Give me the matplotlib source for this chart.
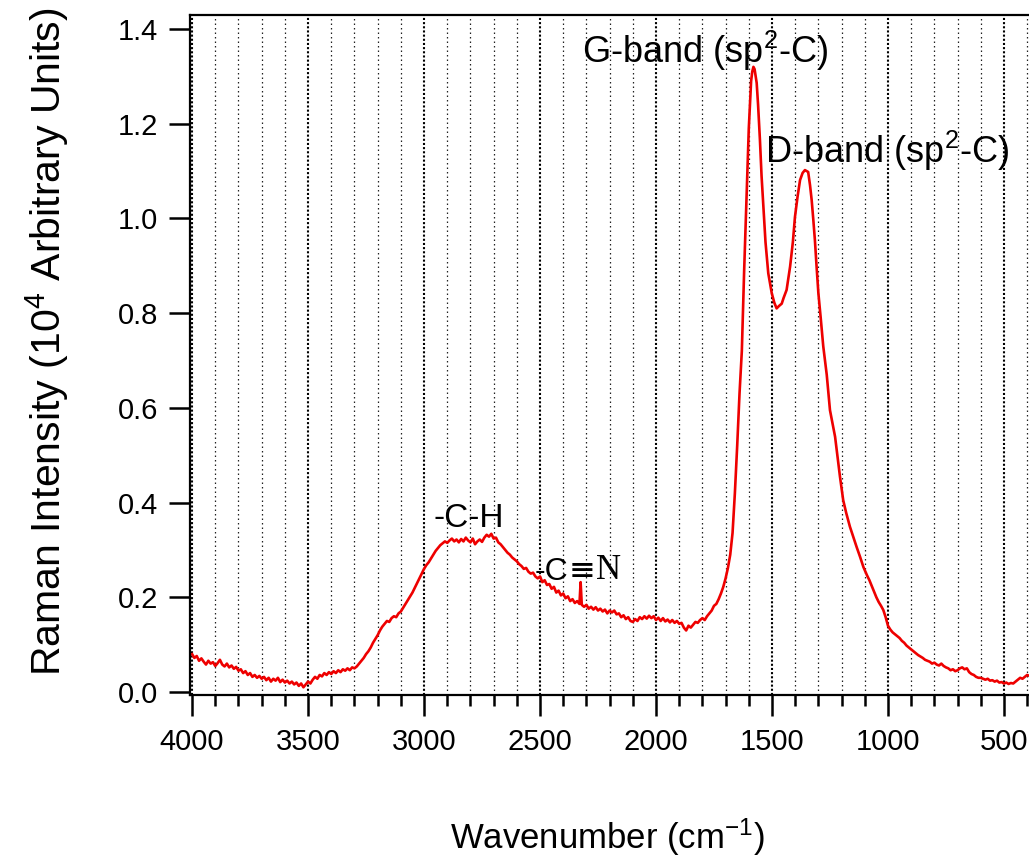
import numpy as np
import matplotlib.pyplot as plt
from matplotlib.ticker import MultipleLocator

plt.rcParams['font.family'] = ['Liberation Sans', 'DejaVu Sans']
plt.rcParams['mathtext.fontset'] = 'custom'
plt.rcParams['mathtext.rm'] = 'Liberation Sans'
plt.rcParams['mathtext.it'] = 'Liberation Sans:italic'
plt.rcParams['mathtext.bf'] = 'Liberation Sans:bold'

# Raman spectrum (cm-1, 10^4 a.u.)
# baseline region, 4000-3300
wn_a = [4000, 3990, 3980, 3970, 3960, 3950, 3940, 3930, 3920, 3910,
        3900, 3890, 3880, 3870, 3860, 3850, 3840, 3830, 3820, 3810,
        3800, 3790, 3780, 3770, 3760, 3750, 3740, 3730, 3720, 3710,
        3700, 3690, 3680, 3670, 3660, 3650, 3640, 3630, 3620, 3610,
        3600, 3590, 3580, 3570, 3560, 3550, 3540, 3530, 3520, 3510,
        3500, 3490, 3480, 3470, 3460, 3450, 3440, 3430, 3420, 3410,
        3400, 3390, 3380, 3370, 3360, 3350, 3340, 3330, 3320, 3310, 3300]
int_a = [0.080, 0.072, 0.076, 0.066, 0.071, 0.064, 0.058, 0.066, 0.060, 0.063,
         0.055, 0.061, 0.068, 0.058, 0.054, 0.060, 0.052, 0.056, 0.049, 0.053,
         0.045, 0.048, 0.040, 0.044, 0.036, 0.040, 0.032, 0.036, 0.030, 0.034,
         0.028, 0.032, 0.025, 0.030, 0.022, 0.028, 0.024, 0.030, 0.021, 0.026,
         0.020, 0.024, 0.018, 0.022, 0.016, 0.020, 0.013, 0.018, 0.010, 0.016,
         0.022, 0.018, 0.026, 0.032, 0.028, 0.036, 0.033, 0.040, 0.036, 0.042,
         0.038, 0.044, 0.040, 0.046, 0.042, 0.048, 0.045, 0.050, 0.046, 0.052, 0.050]

# C-H band and C#N region, 3290-1740
wn_b = [3290, 3280, 3270, 3260, 3250, 3240, 3230, 3220, 3210, 3200,
        3190, 3180, 3170, 3160, 3150, 3140, 3130, 3120, 3110, 3100,
        3090, 3080, 3070, 3060, 3050, 3040, 3030, 3020, 3010, 3000,
        2990, 2980, 2970, 2960, 2950, 2940, 2930, 2920, 2910, 2900,
        2890, 2880, 2870, 2860, 2850, 2840, 2830, 2820, 2810, 2800,
        2790, 2780, 2770, 2760, 2750, 2740, 2730, 2720, 2710, 2700,
        2690, 2680, 2670, 2660, 2650, 2640, 2630, 2620, 2610, 2600,
        2590, 2580, 2570, 2560, 2550, 2540, 2530, 2520, 2510, 2500,
        2490, 2480, 2470, 2460, 2450, 2440, 2430, 2420, 2410, 2400,
        2390, 2380, 2370, 2360, 2350, 2340, 2330, 2325, 2320, 2310,
        2300, 2290, 2280, 2270, 2260, 2250, 2240, 2230, 2220, 2210,
        2200, 2190, 2180, 2170, 2160, 2150, 2140, 2130, 2120, 2110,
        2100, 2090, 2080, 2070, 2060, 2050, 2040, 2030, 2020, 2010,
        2000, 1990, 1980, 1970, 1960, 1950, 1940, 1930, 1920, 1910,
        1900, 1890, 1880, 1870, 1860, 1850, 1840, 1830, 1820, 1810,
        1800, 1790, 1780, 1770, 1760, 1750, 1740]
int_b = [0.054, 0.060, 0.066, 0.072, 0.080, 0.086, 0.094, 0.104, 0.112, 0.120,
         0.130, 0.138, 0.144, 0.150, 0.148, 0.156, 0.160, 0.158, 0.166, 0.170,
         0.178, 0.186, 0.194, 0.202, 0.210, 0.220, 0.230, 0.240, 0.250, 0.260,
         0.268, 0.274, 0.282, 0.290, 0.298, 0.304, 0.310, 0.314, 0.318, 0.315,
         0.320, 0.324, 0.318, 0.322, 0.316, 0.323, 0.318, 0.326, 0.320, 0.316,
         0.324, 0.312, 0.318, 0.322, 0.317, 0.326, 0.332, 0.328, 0.334, 0.324,
         0.326, 0.316, 0.312, 0.306, 0.300, 0.294, 0.290, 0.284, 0.280, 0.276,
         0.270, 0.266, 0.260, 0.262, 0.254, 0.250, 0.252, 0.244, 0.240, 0.244,
         0.232, 0.236, 0.226, 0.228, 0.218, 0.222, 0.210, 0.214, 0.204, 0.208,
         0.198, 0.202, 0.192, 0.196, 0.188, 0.192, 0.186, 0.232, 0.184, 0.180,
         0.184, 0.176, 0.180, 0.174, 0.179, 0.172, 0.176, 0.170, 0.174, 0.166,
         0.172, 0.168, 0.172, 0.164, 0.166, 0.158, 0.162, 0.154, 0.158, 0.150,
         0.148, 0.154, 0.150, 0.158, 0.154, 0.160, 0.155, 0.161, 0.156, 0.160,
         0.152, 0.157, 0.150, 0.156, 0.149, 0.153, 0.147, 0.152, 0.146, 0.150,
         0.144, 0.146, 0.136, 0.130, 0.140, 0.136, 0.142, 0.148, 0.146, 0.152,
         0.156, 0.152, 0.160, 0.166, 0.172, 0.182, 0.186]

# G and D bands
wn_c = [1730, 1720, 1710, 1700, 1690, 1680, 1670, 1660, 1650, 1640,
        1630, 1620, 1610, 1600, 1590, 1585, 1580, 1575, 1566, 1560,
        1552, 1545, 1537, 1528, 1516, 1501, 1490, 1480, 1470, 1458,
        1450, 1437, 1422, 1410, 1401, 1390, 1379, 1368, 1358, 1344,
        1336, 1329, 1322, 1315, 1308, 1300, 1290, 1279, 1264, 1250,
        1240, 1228, 1217, 1207, 1193, 1180, 1164, 1150, 1135, 1120,
        1106, 1090, 1080, 1070, 1063, 1050, 1040, 1030, 1020, 1010]
int_c = [0.196, 0.208, 0.222, 0.240, 0.262, 0.290, 0.336, 0.420, 0.520, 0.630,
         0.720, 0.890, 1.040, 1.190, 1.290, 1.310, 1.320, 1.315, 1.286, 1.240,
         1.166, 1.090, 1.024, 0.950, 0.884, 0.842, 0.822, 0.810, 0.815, 0.820,
         0.832, 0.849, 0.898, 0.950, 1.003, 1.045, 1.081, 1.096, 1.102, 1.098,
         1.070, 1.039, 0.998, 0.954, 0.900, 0.842, 0.790, 0.730, 0.670, 0.595,
         0.570, 0.539, 0.495, 0.455, 0.405, 0.378, 0.349, 0.328, 0.306, 0.285,
         0.264, 0.246, 0.236, 0.224, 0.215, 0.200, 0.190, 0.182, 0.173, 0.158]

# low-wavenumber tail
wn_d = [1000, 990, 980, 970, 960, 950, 940, 930, 920, 910,
        900, 890, 880, 870, 860, 850, 840, 830, 820, 810,
        800, 790, 780, 770, 760, 750, 740, 730, 720, 710,
        700, 690, 680, 670, 660, 650, 640, 630, 620, 610,
        600, 590, 580, 570, 560, 550, 540, 530, 520, 510,
        500, 490, 480, 470, 460, 450, 440, 430, 420, 410, 400, 390]
int_d = [0.140, 0.132, 0.126, 0.122, 0.118, 0.114, 0.108, 0.104, 0.098, 0.094,
         0.090, 0.086, 0.082, 0.078, 0.075, 0.072, 0.068, 0.066, 0.064, 0.060,
         0.062, 0.058, 0.056, 0.060, 0.055, 0.052, 0.050, 0.046, 0.048, 0.044,
         0.046, 0.050, 0.052, 0.048, 0.050, 0.042, 0.038, 0.036, 0.032, 0.030,
         0.030, 0.028, 0.026, 0.028, 0.024, 0.025, 0.022, 0.024, 0.020, 0.021,
         0.018, 0.020, 0.017, 0.019, 0.018, 0.022, 0.026, 0.030, 0.028, 0.032,
         0.036, 0.034]

wavenumber = wn_a + wn_b + wn_c + wn_d
intensity = int_a + int_b + int_c + int_d

fig = plt.figure(figsize=(10.29, 8.61), dpi=100)
ax = fig.add_axes([0.18465, 0.1928, 0.81535, 0.7898])

ax.plot(wavenumber, intensity, color='#ee0000', lw=1.9)

ax.set_xlim(4009, 392)
ax.set_ylim(-0.0063, 1.4295)

ax.xaxis.set_major_locator(MultipleLocator(500))
ax.xaxis.set_minor_locator(MultipleLocator(100))
ax.yaxis.set_major_locator(MultipleLocator(0.2))
ax.yaxis.set_major_formatter(plt.FuncFormatter(lambda v, p: f'{v:.1f}'))

# dotted vertical grid, denser at every 500
ax.grid(which='minor', axis='x', color='#222222', linestyle=(0, (1.2, 2.4)), lw=0.9)
ax.grid(which='major', axis='x', color='black', linestyle=(0, (1, 1)), lw=1.5)
ax.set_axisbelow(True)

ax.spines['right'].set_visible(False)
for s in ['left', 'bottom', 'top']:
    ax.spines[s].set_linewidth(1.6)

ax.tick_params(axis='both', which='major', direction='out', length=15, width=1.8,
               labelsize=21)
ax.tick_params(axis='x', which='major', pad=9)
ax.tick_params(axis='y', which='major', pad=8)
ax.tick_params(axis='x', which='minor', direction='out', length=8, width=1.8)
ax.tick_params(axis='y', which='minor', left=False)

ax.set_xlabel('Wavenumber (cm$^{-1}$)', fontsize=25, va='baseline')
ax.xaxis.set_label_coords(0.498, -0.226)
ax.set_ylabel('Raman Intensity (10$^4$ Arbitrary Units)', fontsize=29.5, va='center')
ax.yaxis.set_label_coords(-0.1704, 0.519)

ax.text(2806, 0.348, '-C-H', fontsize=24, ha='center', va='baseline')
ch = ax.text(2522, 0.236, '-C', fontsize=23, ha='left', va='baseline')
eq = ax.annotate('\u2261', xy=(1, 0), xycoords=ch, fontsize=23, ha='left', va='bottom',
                 family=['DejaVu Sans'])
ax.annotate('N', xy=(1, 0), xycoords=eq, fontsize=25, ha='left', va='bottom',
            family=['Liberation Serif', 'DejaVu Serif'])
ax.text(2319, 1.328, 'G-band (sp$^2$-C)', fontsize=26, ha='left', va='baseline')
ax.text(1530, 1.117, 'D-band (sp$^2$-C)', fontsize=26, ha='left', va='baseline')

fig.savefig('out.png', dpi=100)
